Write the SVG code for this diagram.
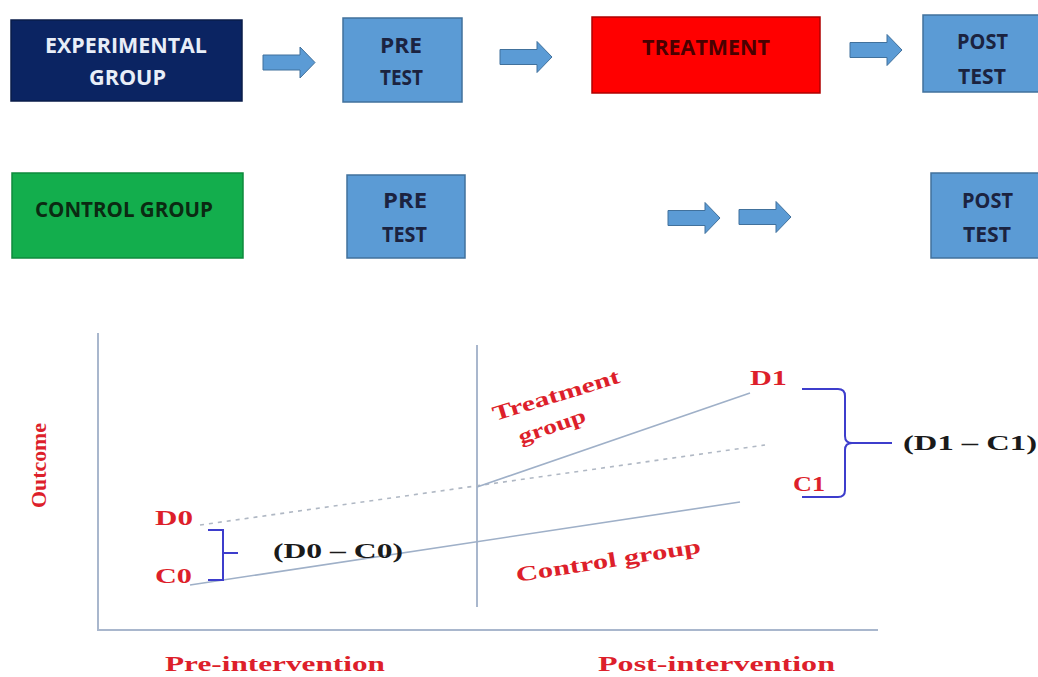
<svg xmlns="http://www.w3.org/2000/svg" width="1038" height="677" viewBox="0 0 1038 677">
<style>
.box{stroke-width:1.5}
.navy{fill:#0b2462;stroke:#0a1c4a}
.blue{fill:#5b9bd5;stroke:#41719c}
.red{fill:#ff0000;stroke:#b00000}
.green{fill:#13ae4d;stroke:#0e8a3c}
.bt{font-family:"Open Sans","Noto Sans",sans-serif;font-weight:bold;font-size:22px}
.wt{fill:#e8eef8}
.dk{fill:#1b2340}
.rk{fill:#4a0000}
.gk{fill:#0b2a12}
.arr{fill:#5b9bd5;stroke:#41719c;stroke-width:1}
.ax{stroke:#a9b7cd;stroke-width:2;fill:none}
.ln{stroke:#9fb0c8;stroke-width:1.6;fill:none}
.dash{stroke:#b0b8c4;stroke-width:1.6;fill:none;stroke-dasharray:4 5}
.br{stroke:#3d3dcc;stroke-width:2;fill:none}
.ct{font-family:"Liberation Serif","Times New Roman",serif;font-weight:bold}
.rt{fill:#dd1f2b}
.kt{fill:#1a1a1a}
</style>
<defs>
<path id="barrow" d="M0,-7.5 H37 V-15.5 L52,0 L37,15.5 V7.5 H0 Z"/>
</defs>
<rect width="1038" height="677" fill="#ffffff"/>

<g id="exp-group">
<rect class="box navy" x="11" y="20" width="231" height="81"/>
<text class="bt wt" x="45" y="53" textLength="162" lengthAdjust="spacingAndGlyphs">EXPERIMENTAL</text>
<text class="bt wt" x="89" y="85" textLength="77" lengthAdjust="spacingAndGlyphs">GROUP</text>
</g>
<g id="pre-test-1">
<rect class="box blue" x="343" y="18" width="119" height="84"/>
<text class="bt dk" x="380" y="53" textLength="42" lengthAdjust="spacingAndGlyphs">PRE</text>
<text class="bt dk" x="380" y="85" textLength="43" lengthAdjust="spacingAndGlyphs">TEST</text>
</g>
<g id="treatment">
<rect class="box red" x="592" y="17" width="228" height="76"/>
<text class="bt rk" x="642" y="55" textLength="128" lengthAdjust="spacingAndGlyphs">TREATMENT</text>
</g>
<g id="post-test-1">
<rect class="box blue" x="923" y="15" width="120" height="77"/>
<text class="bt dk" x="957" y="49" textLength="51" lengthAdjust="spacingAndGlyphs">POST</text>
<text class="bt dk" x="958" y="84" textLength="48" lengthAdjust="spacingAndGlyphs">TEST</text>
</g>
<g id="control-group">
<rect class="box green" x="12" y="173" width="231" height="85"/>
<text class="bt gk" x="35" y="217" textLength="178" lengthAdjust="spacingAndGlyphs">CONTROL GROUP</text>
</g>
<g id="pre-test-2">
<rect class="box blue" x="347" y="175" width="118" height="83"/>
<text class="bt dk" x="383" y="208" textLength="44" lengthAdjust="spacingAndGlyphs">PRE</text>
<text class="bt dk" x="382" y="242" textLength="45" lengthAdjust="spacingAndGlyphs">TEST</text>
</g>
<g id="post-test-2">
<rect class="box blue" x="931" y="173" width="112" height="85"/>
<text class="bt dk" x="962" y="208" textLength="51" lengthAdjust="spacingAndGlyphs">POST</text>
<text class="bt dk" x="963" y="242" textLength="48" lengthAdjust="spacingAndGlyphs">TEST</text>
</g>

<g id="connectors">
<use href="#barrow" class="arr" transform="translate(263,62.5)"/>
<use href="#barrow" class="arr" transform="translate(500,57)"/>
<use href="#barrow" class="arr" transform="translate(850,50)"/>
<use href="#barrow" class="arr" transform="translate(668,218)"/>
<use href="#barrow" class="arr" transform="translate(739,217)"/>
</g>

<g id="chart">
<path class="ax" d="M98,333 V630 H878"/>
<line class="ax" x1="477" y1="345" x2="477" y2="607" stroke-width="1.6"/>
<line class="dash" x1="200" y1="525" x2="765" y2="445"/>
<line class="ln" x1="477" y1="487" x2="750" y2="393"/>
<line class="ln" x1="190" y1="585" x2="740" y2="502"/>
<path class="br" d="M208,530 H223 V580 H208 M223,553 H238"/>
<path class="br" d="M802,389 H838 Q845,389 845,396 V436 Q845,443 852,443 H892 M852,443 Q845,443 845,450 V490 Q845,497 838,497 H802"/>
<text class="ct rt" font-size="21" x="155" y="525" textLength="38" lengthAdjust="spacingAndGlyphs">D0</text>
<text class="ct rt" font-size="21" x="155" y="583" textLength="37" lengthAdjust="spacingAndGlyphs">C0</text>
<text class="ct kt" font-size="21" x="273" y="558" textLength="130" lengthAdjust="spacingAndGlyphs">(D0 – C0)</text>
<text class="ct rt" font-size="21" x="750" y="385" textLength="37" lengthAdjust="spacingAndGlyphs">D1</text>
<text class="ct rt" font-size="21" x="793" y="491" textLength="32" lengthAdjust="spacingAndGlyphs">C1</text>
<text class="ct kt" font-size="21" x="903" y="450" textLength="134" lengthAdjust="spacingAndGlyphs">(D1 – C1)</text>
<text class="ct rt" font-size="21" transform="translate(495,421) rotate(-17)" textLength="132" lengthAdjust="spacingAndGlyphs">Treatment</text>
<text class="ct rt" font-size="21" transform="translate(521,444) rotate(-19)" textLength="70" lengthAdjust="spacingAndGlyphs">group</text>
<text class="ct rt" font-size="21" transform="translate(517,582) rotate(-9)" textLength="187" lengthAdjust="spacingAndGlyphs">Control group</text>
<text class="ct rt" font-size="22" transform="translate(46,508) rotate(-90)" textLength="85" lengthAdjust="spacingAndGlyphs">Outcome</text>
<text class="ct rt" font-size="22" x="165" y="671" textLength="220" lengthAdjust="spacingAndGlyphs">Pre-intervention</text>
<text class="ct rt" font-size="22" x="598" y="671" textLength="237" lengthAdjust="spacingAndGlyphs">Post-intervention</text>
</g>
</svg>
